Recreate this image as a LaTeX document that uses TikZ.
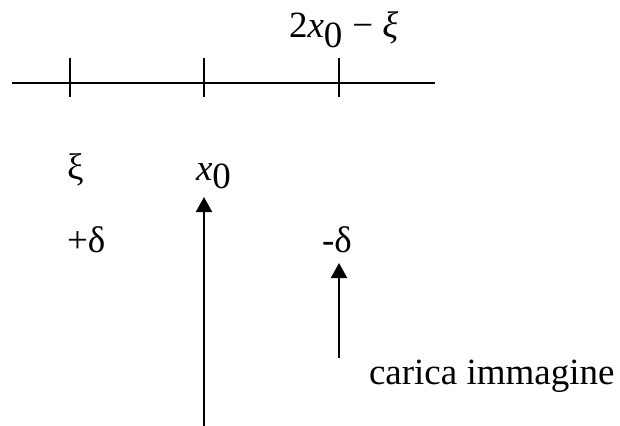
\documentclass[tikz,border=0pt]{standalone}
\usepackage{fontspec}
\setmainfont{Liberation Serif}
\usetikzlibrary{arrows.meta}
\begin{document}
\begin{tikzpicture}[x=1pt,y=-1pt,
  every node/.style={inner sep=0pt,outer sep=0pt,anchor=base west,font=\fontsize{37}{41}\selectfont},
  ln/.style={line width=2pt},
  arr/.style={line width=2pt,-{Triangle[length=15pt,width=16pt]}}]
\useasboundingbox (0,0) rectangle (620,425);
% axis and ticks
\coordinate (axL) at (12,83);
\coordinate (axR) at (435,83);
\draw[ln] (axL) -- (axR);
\coordinate (t1a) at (70,58); \coordinate (t1b) at (70,97);
\coordinate (t2a) at (204,58); \coordinate (t2b) at (204,97);
\coordinate (t3a) at (339,58); \coordinate (t3b) at (339,97);
\draw[ln] (t1a) -- (t1b);
\draw[ln] (t2a) -- (t2b);
\draw[ln] (t3a) -- (t3b);
% labels
\node (img) at (289,38) {2\textit{x}\raisebox{-10pt}{0}\hspace{10pt}−\hspace{9pt}\textit{ξ}};
\node (xi) at (67,179) {ξ};
\node (x0) at (196,180) {\textit{x}\raisebox{-8pt}{0}};
\node (pd) at (67,252) {+δ};
\node (md) at (322,252) {-δ};
\node (car) at (369,384) {carica immagine};
% arrows
\coordinate (bigB) at (204,426);
\coordinate (bigT) at (204,197);
\coordinate (smB) at (339,358);
\coordinate (smT) at (339,263);
\draw[arr] (bigB) -- (bigT);
\draw[arr] (smB) -- (smT);
\end{tikzpicture}
\end{document}
